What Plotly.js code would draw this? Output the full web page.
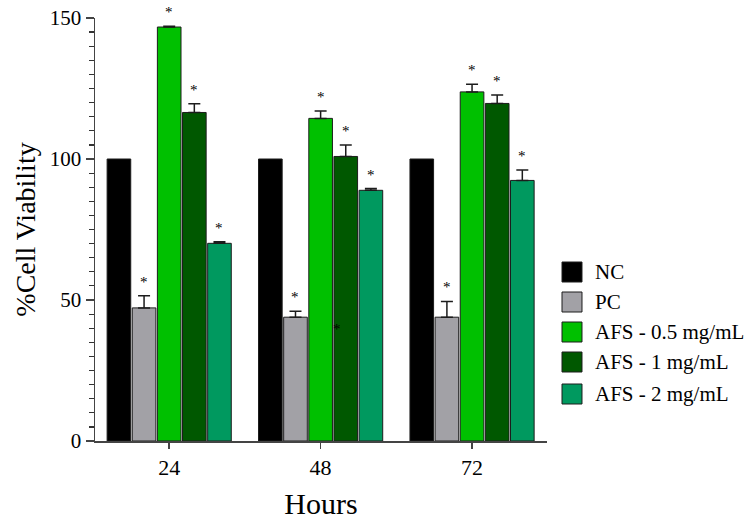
<!DOCTYPE html>
<html>
<head>
<meta charset="utf-8">
<script src="https://cdn.plot.ly/plotly-3.0.1.min.js"></script>
<style>
  html, body { margin: 0; padding: 0; background: #fff; }
  #chart { width: 750px; height: 520px; }
</style>
</head>
<body>
<div id="chart"></div>
<script>
// Time points (hours)
const hours = ['24', '48', '72'];

// Treatment groups
const groups = ['NC', 'PC', 'AFS - 0.5 mg/mL', 'AFS - 1 mg/mL', 'AFS - 2 mg/mL'];

// Mean % cell viability per group at 24, 48, 72 h
const ncMean   = [100, 100, 100];
const pcMean   = [47.2, 43.9, 43.9];
const afs05Mean = [146.8, 114.4, 123.8];
const afs1Mean  = [116.5, 100.9, 119.7];
const afs2Mean  = [70.1, 88.9, 92.4];

// Standard deviations (upper error bars)
const ncErr   = [0, 0, 0];
const pcErr   = [4.3, 2.1, 5.6];
const afs05Err = [0.3, 2.6, 2.7];
const afs1Err  = [3.1, 4.1, 3.0];
const afs2Err  = [0.6, 0.6, 3.7];

// Significance marks (1 = '*' above the bar)
const ncSig   = [0, 0, 0];
const pcSig   = [1, 1, 1];
const afs05Sig = [1, 1, 1];
const afs1Sig  = [1, 1, 1];
const afs2Sig  = [1, 1, 1];

// A loose asterisk printed inside the 48 h, 1 mg/mL bar
const strayMarkHour = '48';
const strayMarkValue = 40.9;

const means = [ncMean, pcMean, afs05Mean, afs1Mean, afs2Mean];
const errs  = [ncErr, pcErr, afs05Err, afs1Err, afs2Err];
const sigs  = [ncSig, pcSig, afs05Sig, afs1Sig, afs2Sig];
const colors = ['#000000', '#a2a1a6', '#00c000', '#005800', '#00995f'];

const FONT = 'Liberation Serif, Times New Roman, serif';
const BARGAP = 0.17;
const slot = (1 - BARGAP) / groups.length;

const traces = groups.map((g, k) => ({
  type: 'bar',
  name: g,
  x: hours,
  y: means[k],
  marker: { color: colors[k], line: { color: '#1c1c1c', width: 1 } },
  error_y: {
    type: 'data', symmetric: false,
    array: errs[k], arrayminus: hours.map(() => 0),
    visible: errs[k].some(v => v > 0),
    color: '#1c1c1c', thickness: 1.5, width: 6
  },
  showlegend: false,
  hoverinfo: 'skip'
}));

const annotations = [];
groups.forEach((g, k) => {
  hours.forEach((h, i) => {
    if (!sigs[k][i]) return;
    annotations.push({
      xref: 'x', yref: 'y',
      x: i + (k - (groups.length - 1) / 2) * slot,
      y: means[k][i] + errs[k][i],
      text: '*', showarrow: false,
      yanchor: 'middle', yshift: 14,
      font: { family: FONT, size: 15, color: '#000' }
    });
  });
});
// loose asterisk
annotations.push({
  xref: 'x', yref: 'y',
  x: hours.indexOf(strayMarkHour) + (3 - 2) * slot - 0.055,
  y: strayMarkValue,
  text: '*', showarrow: false, yanchor: 'middle', yshift: -3,
  font: { family: FONT, size: 15, color: '#000' }
});

// Legend: swatches and labels drawn to the right of the plot
const shapes = [];
const plotTop = 18, plotBottom = 441, plotH = plotBottom - plotTop;
const rowPx = [272, 302, 332, 362, 394];
groups.forEach((g, k) => {
  const yc = (plotBottom - rowPx[k]) / plotH;
  const half = 10 / plotH;
  shapes.push({
    type: 'rect', xref: 'paper', yref: 'paper',
    x0: 1.0332, x1: 1.0774, y0: yc - half, y1: yc + half,
    fillcolor: colors[k], line: { color: '#1c1c1c', width: 1 }
  });
  annotations.push({
    xref: 'paper', yref: 'paper', x: 1.1018, y: yc,
    xanchor: 'left', yanchor: 'middle', showarrow: false,
    text: g, font: { family: FONT, size: 21, color: '#000' }
  });
});

const layout = {
  width: 750, height: 520,
  margin: { l: 95, r: 203, t: 18, b: 79 },
  paper_bgcolor: '#fff', plot_bgcolor: '#fff',
  barmode: 'group', bargap: BARGAP, bargroupgap: 0.06,
  showlegend: false,
  font: { family: FONT, color: '#000' },
  xaxis: {
    type: 'category',
    range: [-0.49, 2.495],
    showline: true, linecolor: '#444', linewidth: 1.5,
    ticks: 'outside', ticklen: 6, tickcolor: '#444', tickwidth: 1.5,
    tickfont: { family: FONT, size: 22, color: '#000' },
    showgrid: false, zeroline: false,
    title: { text: 'Hours', font: { family: FONT, size: 30, color: '#000' }, standoff: 14 }
  },
  yaxis: {
    range: [0, 150],
    tickmode: 'linear', tick0: 0, dtick: 50,
    showline: true, linecolor: '#444', linewidth: 1.5,
    ticks: 'outside', ticklen: 8, tickcolor: '#444', tickwidth: 1.5,
    minor: { tickmode: 'linear', tick0: 0, dtick: 5, ticks: 'outside', ticklen: 5, tickcolor: '#333', tickwidth: 1.2, showgrid: false },
    tickfont: { family: FONT, size: 21, color: '#000' },
    showgrid: false, zeroline: false,
    title: { text: '%Cell Viability', font: { family: FONT, size: 28, color: '#000' }, standoff: 6 }
  },
  annotations: annotations,
  shapes: shapes
};

Plotly.newPlot('chart', traces, layout, { staticPlot: true, displayModeBar: false });
</script>
</body>
</html>
